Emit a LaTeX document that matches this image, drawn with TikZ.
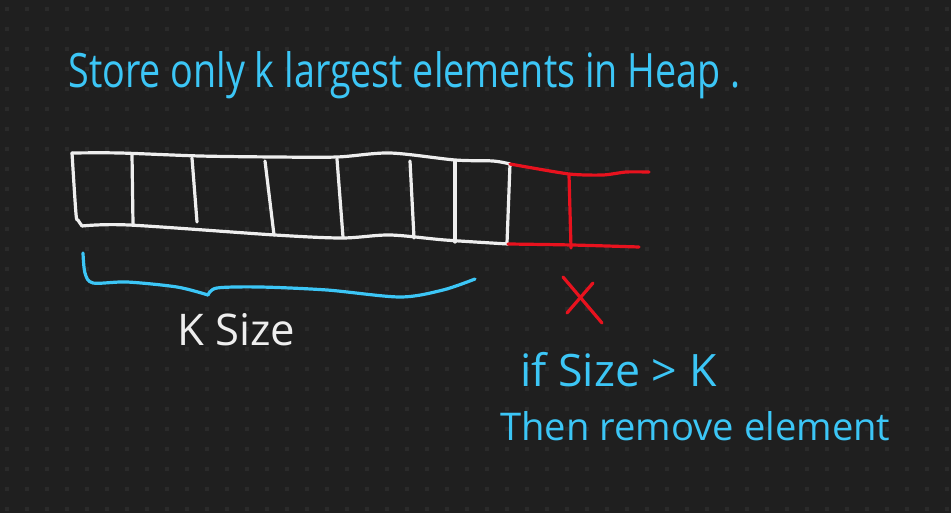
\documentclass[tikz,border=0pt]{standalone}
\usepackage{fontspec}
\usepackage{graphicx}
\usepackage{xcolor}
\setmainfont{Open Sans}
\definecolor{boardbg}{HTML}{1F1F1F}
\definecolor{boarddot}{HTML}{2A2A2A}
\definecolor{inkblue}{HTML}{3CC6F6}
\definecolor{inkred}{HTML}{E8121E}
\definecolor{inkwhite}{HTML}{EEEEEE}

\begin{document}
\begin{tikzpicture}[
    x=0.5pt, y=-0.5pt,
    ink/.style={line width=1.6pt, line cap=round, line join=round},
    cellline/.style={ink, draw=inkwhite},
    dropline/.style={ink, draw=inkred},
    braceline/.style={ink, draw=inkblue},
    note/.style={anchor=base west, inner sep=0pt, text=inkblue},
    label/.style={anchor=base west, inner sep=0pt, text=inkwhite}
  ]
    % Board
    \useasboundingbox (0,0) rectangle (951,513);
    \fill[boardbg] (0,0) rectangle (951,513);
    \foreach \gx in {7,27,...,947}
      \foreach \gy in {9,29,...,509}
        \fill[boarddot] (\gx-2,\gy-2) rectangle (\gx+2,\gy+2);

    % Title
    \node[note] (title) at (68,88) {\resizebox{336pt}{18pt}{Store only k largest elements in Heap .}};

    % Array of k cells
    \draw[cellline] plot[smooth, tension=0.5] coordinates {(72,153) (120,153) (200,156) (275,157) (337,157) (390,153) (455,160) (493,161) (510,164)};
    \draw[cellline] plot[smooth, tension=0.5] coordinates {(82,226) (129,225) (275,235) (342,238) (390,235) (445,240) (508,244)};
    \draw[cellline] plot[smooth, tension=0.5] coordinates {(72,153) (76,214) (78,220) (82,226)};
    \draw[cellline] (132,154) -- (133,224);
    \draw[cellline] (192,158) -- (197,222);
    \draw[cellline] (265,161) -- (274,235);
    \draw[cellline] (337,159) -- (343,237);
    \draw[cellline] (410,161) -- (414,238);
    \draw[cellline] (455,161) -- (455,242);
    \draw[cellline] (510,164) -- (507,243);

    % Extra cell
    \draw[dropline] plot[smooth, tension=0.4] coordinates {(510,164) (569,174) (603,175) (626,172) (649,172)};
    \draw[dropline] plot[smooth, tension=0.5] coordinates {(508,244) (572,245) (639,247)};
    \draw[dropline] (569,175) -- (571,248);

    % Cross
    \draw[dropline] (563,277) -- (602,323);
    \draw[dropline] (593,283) -- (567,313);

    % Brace
    \draw[braceline] plot[smooth, tension=0.5] coordinates {(83,253) (85,273) (93,283) (127,282) (177,287) (208,295)};
    \draw[braceline] plot[smooth, tension=0.5] coordinates {(208,295) (217,288) (260,287) (327,290) (400,297) (443,290) (475,279)};

    % Labels
    \node[label] (ksize) at (177,345) {\resizebox{59pt}{!}{K Size}};
    \node[note] (cond) at (520,386) {\resizebox{98pt}{!}{if Size > K}};
    \node[note] (action) at (500,440) {\resizebox{195pt}{!}{Then remove element}};
  \end{tikzpicture}
\end{document}
